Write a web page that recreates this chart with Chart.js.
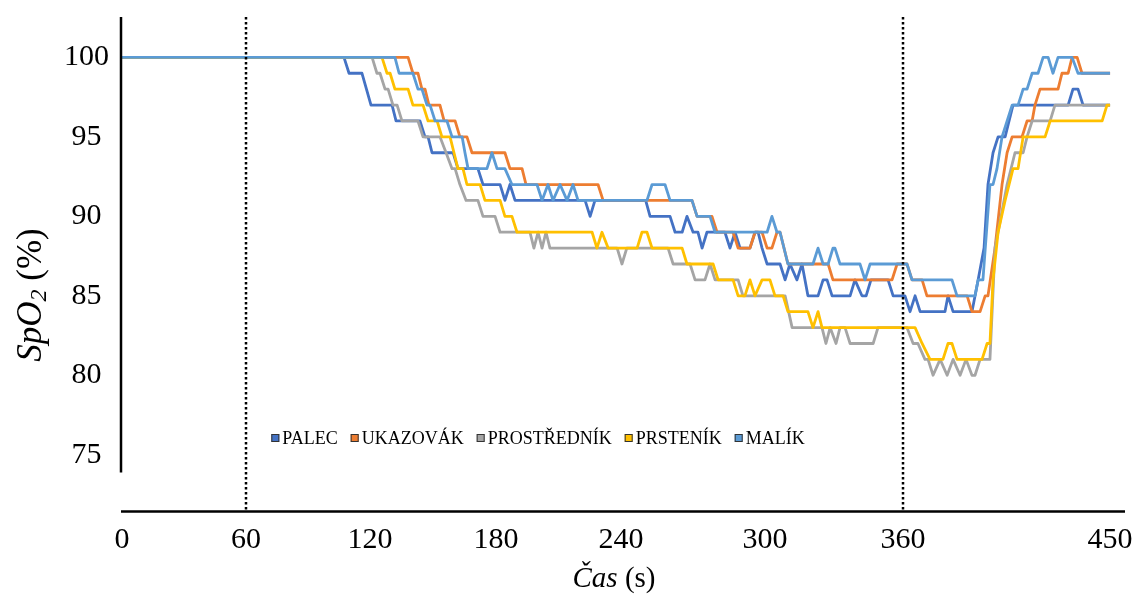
<!DOCTYPE html>
<html>
<head>
<meta charset="utf-8">
<script src="https://cdn.jsdelivr.net/npm/chart.js@4.4.1/dist/chart.umd.min.js"></script>
<style>
  html, body { margin: 0; padding: 0; background: #fff; }
  #wrap { position: relative; width: 1138px; height: 596px; }
</style>
</head>
<body>
<div id="wrap"><canvas id="c" width="1138" height="596"></canvas></div>
<script>
// ---- data (time in s as drawn on the axis, SpO2 in %) ----
const tickPositions = [0, 56.5, 113, 170.3, 227.3, 292.9, 355.7, 450];
const tickLabels = ['0', '60', '120', '180', '240', '300', '360', '450'];
const yTicks = [75, 80, 85, 90, 95, 100];
const markerLabels = ['60', '360'];
const seriesNames = ['PALEC', 'UKAZOVÁK', 'PROSTŘEDNÍK', 'PRSTENÍK', 'MALÍK'];
const seriesColors = ['#4472C4', '#ED7D31', '#A5A5A5', '#FFC000', '#5B9BD5'];

const palec = [[0,100],[101.1,100],[103.4,99],[109.3,99],[113.4,97],[123.0,97],[124.8,96],[135.7,96],[138.0,95],[139.4,95],[141.2,94],[150.8,94],[153.0,93],[162.1,93],[164.4,92],[172.2,92],[174.4,91],[176.7,92],[179.0,91],[210.9,91],[213.2,90],[215.4,91],[238.5,91],[240.5,90],[249.6,90],[251.9,89],[255.1,89],[257.3,90],[260.1,89],[262.3,89],[264.2,88],[266.4,89],[274.6,89],[276.9,88],[279.2,89],[281.5,88],[286.0,88],[288.3,89],[289.7,89],[291.5,88],[293.8,87],[299.7,87],[302.0,86],[304.2,87],[307.4,86],[309.7,87],[312.4,85],[317.0,85],[319.3,86],[321.1,86],[323.4,85],[331.6,85],[333.8,86],[337.0,85],[338.9,85],[341.1,86],[348.9,86],[351.2,85],[356.6,85],[358.9,84],[361.2,85],[363.5,84],[374.8,84],[376.2,85],[378.5,84],[387.1,84],[389.9,86],[392.6,88],[394.4,92],[396.7,94],[399.0,95],[402.2,95],[404.0,96],[405.8,97],[430.9,97],[433.1,98],[435.4,98],[437.7,97],[450,97]];

const ukazovak = [[0,100],[130.3,100],[132.5,99],[134.8,99],[136.6,98],[138.0,98],[139.8,97],[144.8,97],[146.7,96],[151.7,96],[153.9,95],[157.1,95],[159.4,94],[174.4,94],[176.7,93],[182.2,93],[184.0,92],[216.8,92],[219.1,91],[259.6,91],[261.9,90],[268.7,90],[271.0,89],[278.3,89],[280.6,88],[286.0,88],[288.3,89],[291.5,89],[293.8,88],[296.0,88],[298.3,89],[299.7,89],[303.3,87],[321.6,87],[323.8,86],[350.7,86],[353.0,87],[357.5,87],[359.8,86],[364.4,86],[366.6,85],[384.9,85],[387.1,84],[390.8,84],[393.1,85],[394.4,85],[397.6,88],[400.8,92],[403.1,94],[405.4,95],[409.9,95],[412.2,96],[414.5,96],[415.8,97],[418.1,98],[426.3,98],[428.1,99],[430.9,99],[432.7,100],[435.0,100],[437.2,99],[450,99]];

const prostrednik = [[0,100],[113.9,100],[116.1,99],[117.5,99],[119.8,98],[121.2,98],[123.4,97],[125.3,97],[127.5,96],[134.8,96],[137.1,95],[144.8,95],[147.6,94],[150.3,93],[151.7,93],[153.9,92],[156.7,91],[162.1,91],[164.4,90],[169.9,90],[172.2,89],[185.8,89],[187.6,88],[189.5,89],[191.3,88],[193.1,89],[194.9,88],[225.5,88],[227.7,87],[229.9,88],[248.7,88],[251.0,87],[258.7,87],[261.0,86],[265.5,86],[267.8,87],[270.1,86],[280.6,86],[282.8,85],[302.0,85],[305.2,83],[318.8,83],[320.6,82],[322.5,83],[325.2,82],[327.0,83],[329.3,83],[331.6,82],[342.1,82],[344.3,83],[357.5,83],[360.3,82],[362.5,82],[365.7,81],[367.1,81],[369.4,80],[372.6,81],[375.8,80],[378.5,81],[381.7,80],[384.4,81],[387.1,80],[388.5,80],[390.8,81],[395.3,81],[397.6,88],[403.1,92],[406.7,94],[410.4,94],[412.2,95],[414.5,96],[422.7,96],[424.9,97],[450,97]];

const prstenik = [[0,100],[118.4,100],[120.7,99],[122.1,99],[124.3,98],[130.3,98],[132.5,97],[137.1,97],[139.4,96],[143.5,96],[145.7,95],[149.4,95],[151.2,94],[153.0,93],[155.3,93],[157.1,92],[163.1,92],[165.3,91],[172.2,91],[174.4,90],[177.6,90],[179.9,89],[214.1,89],[216.3,88],[218.6,89],[221.4,88],[234.6,88],[236.8,89],[239.1,89],[241.4,88],[255.1,88],[257.3,87],[269.2,87],[271.5,86],[278.3,86],[280.6,85],[283.7,85],[286.0,86],[288.3,85],[291.5,86],[295.1,86],[297.4,85],[301.1,85],[303.3,84],[312.4,84],[314.7,83],[317.0,84],[318.8,83],[361.2,83],[364.4,82],[368.0,81],[373.9,81],[376.2,82],[378.0,82],[380.3,81],[391.7,81],[394.0,82],[395.3,82],[396.7,86],[399.0,89],[402.2,91],[405.8,93],[408.1,93],[410.4,95],[420.4,95],[422.7,96],[446.4,96],[448.6,97],[450,97]];

const malik = [[0,100],[124.3,100],[126.2,99],[132.5,99],[134.8,98],[136.6,98],[138.9,97],[140.3,97],[142.6,96],[148.0,96],[150.3,95],[154.9,95],[156.2,94],[157.6,93],[166.2,93],[168.5,94],[170.8,93],[174.4,93],[177.6,92],[189.0,92],[191.3,91],[194.0,92],[196.3,91],[199.5,92],[202.7,91],[205.4,92],[207.7,91],[239.1,91],[241.4,92],[247.3,92],[249.6,91],[259.6,91],[261.9,90],[267.8,90],[270.1,89],[293.8,89],[296.0,90],[298.3,89],[299.7,89],[303.3,87],[314.7,87],[317.0,88],[319.3,87],[321.6,87],[323.8,88],[324.7,88],[327.0,87],[336.1,87],[338.4,86],[340.7,87],[357.5,87],[359.8,86],[378.0,86],[380.3,85],[388.5,85],[389.9,86],[392.1,86],[395.3,92],[396.7,92],[398.5,93],[400.8,95],[405.4,97],[408.1,97],[410.4,98],[412.2,98],[414.5,99],[417.2,99],[419.5,100],[421.8,100],[424.0,99],[426.3,100],[432.7,100],[435.4,99],[450,99]];

const allSeries = [palec, ukazovak, prostrednik, prstenik, malik];

// ---- layout / style ----
const SERIF = '"Liberation Serif", "Times New Roman", serif';
const TICK_SIZE = 30;
const AREA = { left: 122, right: 1125, top: 17, bottom: 511.5 };
const Y_AXIS_BOTTOM = 472.5;

const overlay = {
  id: 'overlay',
  afterDatasetsDraw(chart) {
    const { ctx, chartArea, scales } = chart;
    const xs = scales.x;
    ctx.save();
    // dotted marker lines
    ctx.strokeStyle = '#000';
    ctx.lineWidth = 2.5;
    ctx.setLineDash([2.5, 2.5]);
    markerLabels.forEach(lbl => {
      const px = Math.round(xs.getPixelForValue(tickPositions[tickLabels.indexOf(lbl)]));
      ctx.beginPath();
      ctx.moveTo(px, chartArea.top);
      ctx.lineTo(px, chartArea.bottom);
      ctx.stroke();
    });
    ctx.setLineDash([]);
    // axis lines
    ctx.beginPath();
    ctx.moveTo(chartArea.left - 1, chartArea.top);
    ctx.lineTo(chartArea.left - 1, Y_AXIS_BOTTOM);
    ctx.stroke();
    ctx.beginPath();
    ctx.moveTo(chartArea.left - 1, chartArea.bottom);
    ctx.lineTo(chartArea.right, chartArea.bottom);
    ctx.stroke();

    // legend
    ctx.font = '18px ' + SERIF;
    ctx.textBaseline = 'middle';
    const box = 8, gapBox = 3, gapItem = 13;
    const ds = chart.data.datasets;
    let total = 0;
    ds.forEach((d, i) => {
      total += box + gapBox + ctx.measureText(d.label).width + (i < ds.length - 1 ? gapItem : 0);
    });
    let lx = 538 - total / 2;
    const ly = 438;
    ds.forEach(d => {
      ctx.fillStyle = d.borderColor;
      ctx.fillRect(lx, ly - box / 2, box, box);
      ctx.strokeStyle = '#333';
      ctx.lineWidth = 1;
      ctx.strokeRect(lx + 0.5, ly - box / 2 + 0.5, box - 1, box - 1);
      lx += box + gapBox;
      ctx.fillStyle = '#000';
      ctx.fillText(d.label, lx, ly + 1);
      lx += ctx.measureText(d.label).width + gapItem;
    });

    // y title: SpO2 (%)
    ctx.save();
    ctx.translate(30, 295);
    ctx.rotate(-Math.PI / 2);
    const fs = 35;
    const fItal = 'italic ' + fs + 'px ' + SERIF;
    const fSub = 'italic ' + Math.round(fs * 0.68) + 'px ' + SERIF;
    const fReg = fs + 'px ' + SERIF;
    ctx.textBaseline = 'alphabetic';
    ctx.font = fItal; const w1 = ctx.measureText('SpO').width;
    ctx.font = fSub; const w2 = ctx.measureText('2').width;
    ctx.font = fReg; const w3 = ctx.measureText(' (%)').width;
    let tx = -(w1 + w2 + w3) / 2;
    const base = fs * 0.3;
    ctx.fillStyle = '#000';
    ctx.font = fItal; ctx.fillText('SpO', tx, base); tx += w1;
    ctx.font = fSub; ctx.fillText('2', tx, base + fs * 0.17); tx += w2;
    ctx.font = fReg; ctx.fillText(' (%)', tx, base);
    ctx.restore();

    // x title: Čas (s)
    ctx.textBaseline = 'alphabetic';
    const xf = 29;
    ctx.font = 'italic ' + xf + 'px ' + SERIF; const a1 = ctx.measureText('Čas').width;
    ctx.font = xf + 'px ' + SERIF; const a2 = ctx.measureText(' (s)').width;
    let sx = 614 - (a1 + a2) / 2;
    ctx.fillStyle = '#000';
    ctx.font = 'italic ' + xf + 'px ' + SERIF; ctx.fillText('Čas', sx, 587); sx += a1;
    ctx.font = xf + 'px ' + SERIF; ctx.fillText(' (s)', sx, 587);
    ctx.restore();
  }
};

const datasets = allSeries.map((s, i) => ({
  label: seriesNames[i],
  data: s.map(([x, y]) => ({ x, y })),
  borderColor: seriesColors[i],
  backgroundColor: seriesColors[i],
  borderWidth: 2.8,
  pointRadius: 0,
  pointHoverRadius: 0,
  tension: 0,
  fill: false,
  borderJoinStyle: 'round',
  order: allSeries.length - i
}));

const zeroPad = s => { s.paddingTop = 0; s.paddingBottom = 0; s.paddingLeft = 0; s.paddingRight = 0; };

new Chart(document.getElementById('c'), {
  type: 'line',
  data: { datasets },
  options: {
    responsive: false,
    animation: false,
    devicePixelRatio: 1,
    layout: { padding: { left: 0, right: 1138 - AREA.right, top: AREA.top, bottom: 0 } },
    plugins: { legend: { display: false }, tooltip: { enabled: false }, title: { display: false } },
    scales: {
      x: {
        type: 'linear',
        min: 0,
        max: 456.8,
        grid: { display: false, drawTicks: false },
        border: { display: false },
        ticks: {
          font: { family: SERIF, size: TICK_SIZE },
          color: '#000',
          padding: 11,
          autoSkip: false,
          maxRotation: 0,
          callback: (v, i) => tickLabels[i]
        },
        afterBuildTicks: s => { s.ticks = tickPositions.map(v => ({ value: v })); },
        afterFit: s => { s.height = 596 - AREA.bottom; zeroPad(s); }
      },
      y: {
        type: 'linear',
        min: 71.43,
        max: 102.54,
        grid: { display: false, drawTicks: false },
        border: { display: false },
        ticks: {
          font: { family: SERIF, size: TICK_SIZE },
          color: '#000',
          padding: 13,
          crossAlign: 'center',
          callback: v => String(v)
        },
        afterBuildTicks: s => { s.ticks = yTicks.map(v => ({ value: v })); },
        afterFit: s => { s.width = AREA.left; zeroPad(s); }
      }
    }
  },
  plugins: [overlay]
});
</script>
</body>
</html>
